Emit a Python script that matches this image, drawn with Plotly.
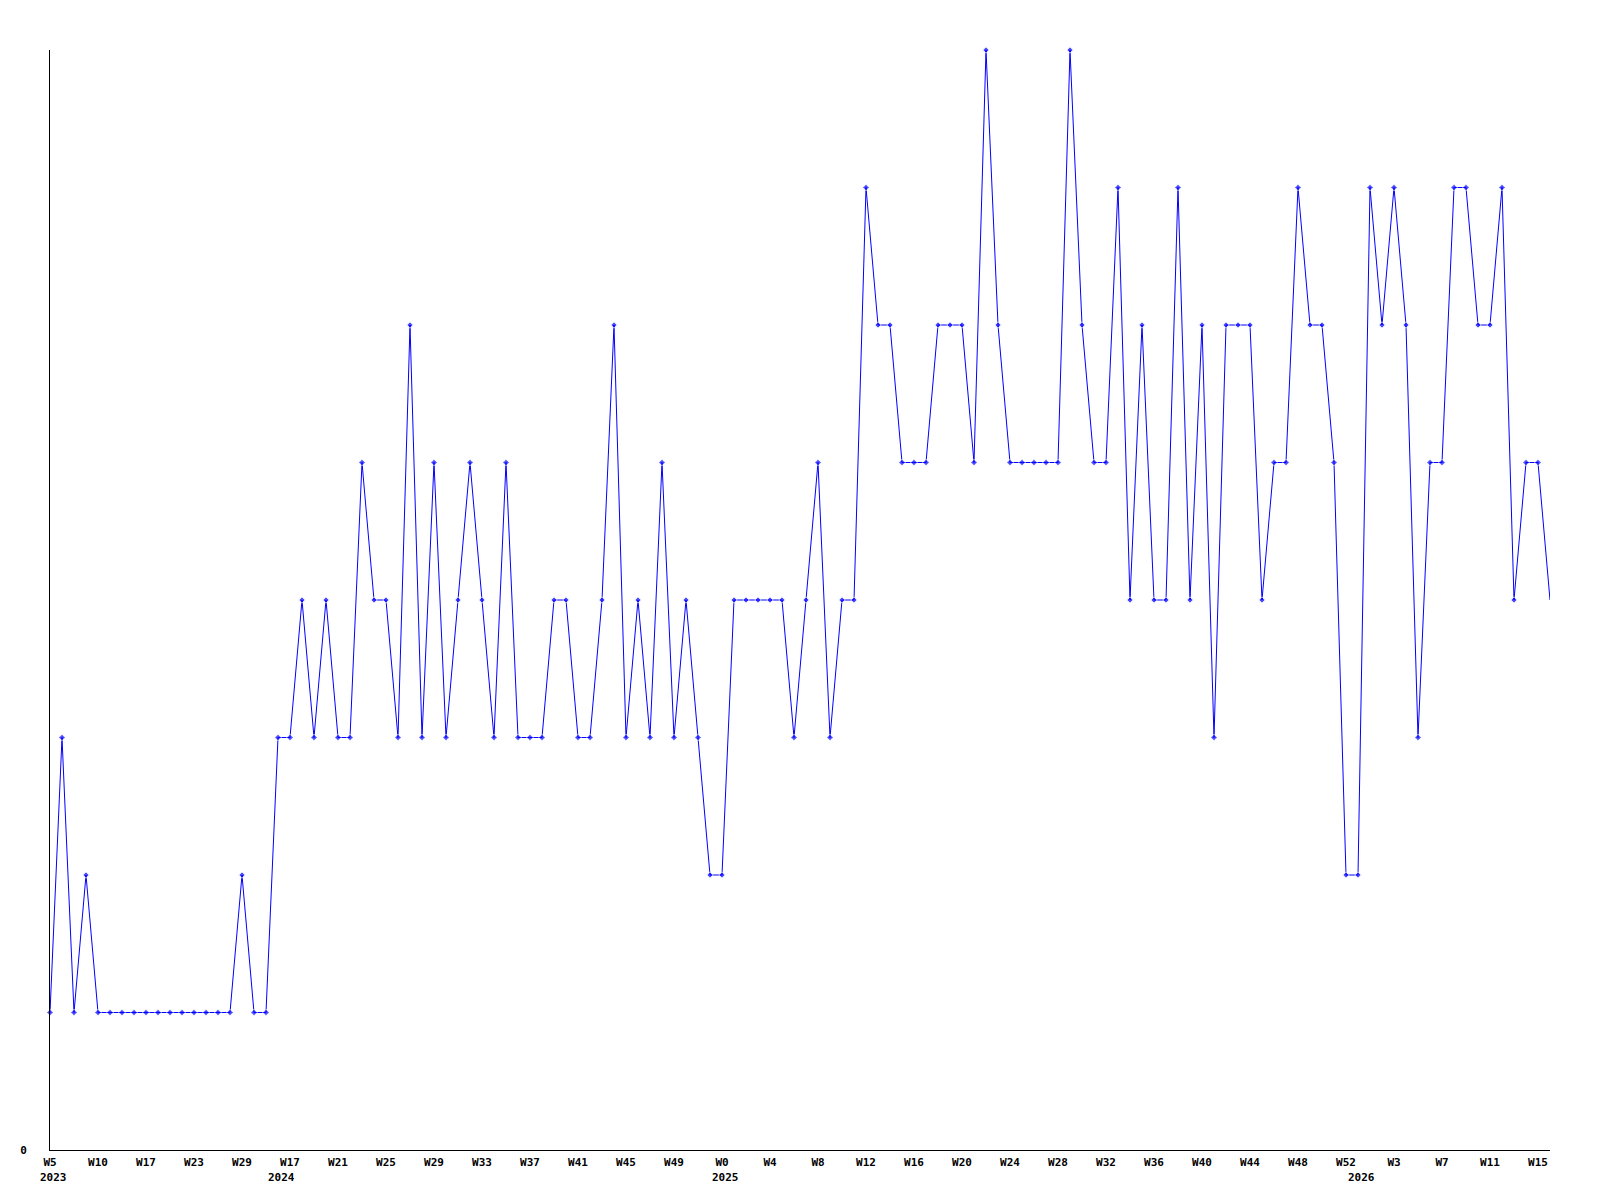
import plotly.graph_objects as go

values = [1, 3, 1, 2, 1, 1, 1, 1, 1, 1, 1, 1, 1, 1, 1, 1, 2, 1, 1, 3,
          3, 4, 3, 4, 3, 3, 5, 4, 4, 3, 6, 3, 5, 3, 4, 5, 4, 3, 5, 3,
          3, 3, 4, 4, 3, 3, 4, 6, 3, 4, 3, 5, 3, 4, 3, 2, 2, 4, 4, 4,
          4, 4, 3, 4, 5, 3, 4, 4, 7, 6, 6, 5, 5, 5, 6, 6, 6, 5, 8, 6,
          5, 5, 5, 5, 5, 8, 6, 5, 5, 7, 4, 6, 4, 4, 7, 4, 6, 3, 6, 6,
          6, 4, 5, 5, 7, 6, 6, 5, 2, 2, 7, 6, 7, 6, 3, 5, 5, 7, 7, 6,
          6, 7, 4, 5, 5, 4]

week_labels = ["W5", "W10", "W17", "W23", "W29", "W17", "W21", "W25",
               "W29", "W33", "W37", "W41", "W45", "W49", "W0", "W4",
               "W8", "W12", "W16", "W20", "W24", "W28", "W32", "W36",
               "W40", "W44", "W48", "W52", "W3", "W7", "W11", "W15"]

year_labels = ["2023", "2024", "2025", "2026"]
year_start_index = [0, 19, 56, 109]

x = list(range(len(values)))
tick_pos = list(range(0, 4 * len(week_labels), 4))
marker_sizes = [5] * (len(values) - 1) + [0]

fig = go.Figure()
fig.add_trace(go.Scatter(
    x=x, y=values, mode="lines+markers",
    line=dict(color="#0000ff", width=1),
    marker=dict(color="#0000ff", size=marker_sizes, symbol="diamond"),
    cliponaxis=False, showlegend=False,
))

font = dict(family="DejaVu Sans Mono", size=11, color="black", weight="bold")

for label, pos in zip(year_labels, year_start_index):
    fig.add_annotation(
        x=pos, xref="x", y=0, yref="paper", text=label, showarrow=False,
        xanchor="center", yanchor="middle", yshift=-27, xshift=3, font=font,
    )

fig.update_layout(
    width=1600, height=1200,
    margin=dict(l=42, r=58, t=42, b=58, pad=0),
    paper_bgcolor="white", plot_bgcolor="white",
    font=font,
    xaxis=dict(
        range=[0, len(values) - 1], tickmode="array", tickvals=tick_pos, ticktext=week_labels,
        showgrid=False, zeroline=False, showline=True, linecolor="black", linewidth=1,
        ticks="", tickangle=0, tickfont=font, ticklabelstandoff=2,
    ),
    yaxis=dict(
        range=[0, 8], tickmode="array", tickvals=[0], ticktext=["0"],
        showgrid=False, zeroline=False, showline=True, linecolor="black", linewidth=1,
        ticks="", tickfont=font, ticklabelstandoff=20,
    ),
)

fig.write_html("out.html")
